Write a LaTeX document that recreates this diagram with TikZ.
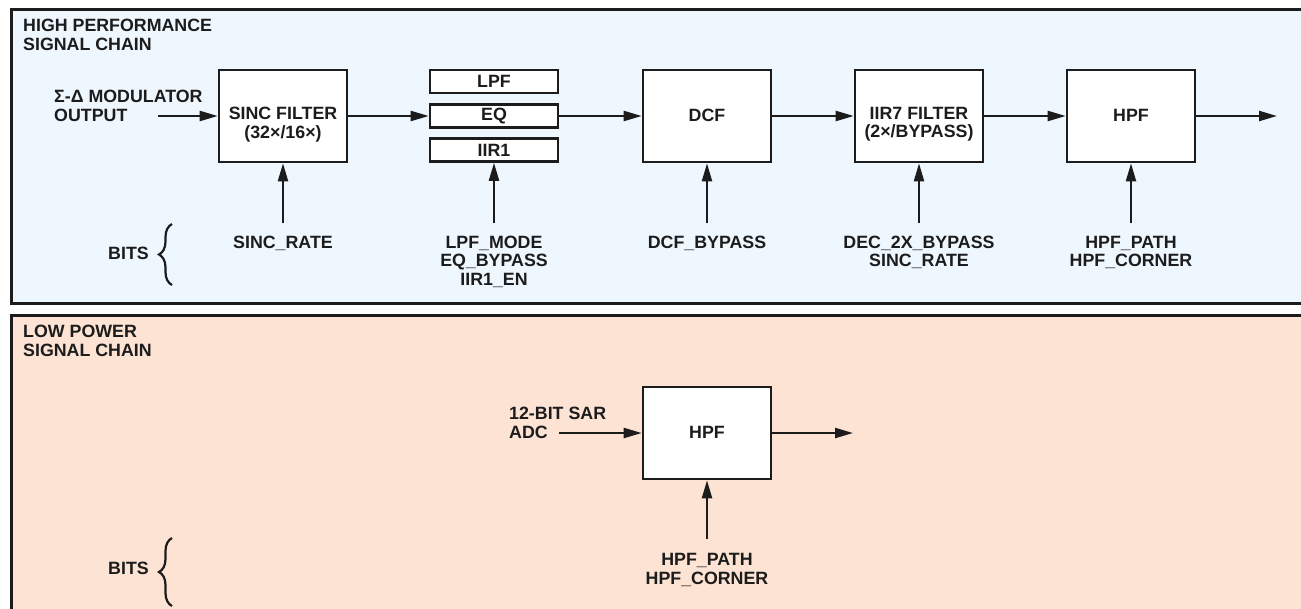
\documentclass[tikz,border=0pt]{standalone}
\usepackage{fontspec}
\setmainfont{Liberation Sans}
\usetikzlibrary{arrows.meta,decorations.pathreplacing,calc}
\definecolor{hpbg}{RGB}{239,247,254}
\definecolor{lpbg}{RGB}{252,227,211}
\definecolor{ink}{RGB}{28,28,28}
\begin{document}
\begin{tikzpicture}[x=1pt,y=-1pt,
 txt/.style={font=\fontsize{17.8}{18.4}\selectfont\bfseries, inner sep=0pt, align=center, text=ink},
 txtl/.style={txt, align=left},
 blk/.style={draw=ink, line width=2.6pt, fill=white, inner sep=0pt, minimum width=128pt, minimum height=92pt},
 sblk/.style={blk, minimum height=23pt},
 sig/.style={draw=ink, line width=2.2pt, -{Triangle[length=18pt,width=10pt]}},
 panel/.style={draw=ink, line width=3pt},
 brc/.style={draw=ink, line width=2.2pt, decorate, decoration={brace,amplitude=13pt}}]
\useasboundingbox (0,0) rectangle (1301,608);
\clip (0,0) rectangle (1301,608);
\fill[white] (0,0) rectangle (1301,608);
\draw[panel, fill=hpbg] (11,9.5) rectangle (1320,303.5);
\draw[panel, fill=lpbg] (11,315.5) rectangle (1320,630);

% ---------- high performance chain ----------
\node[txtl, anchor=west] (hptitle) at (23,35) {HIGH PERFORMANCE\\SIGNAL CHAIN};
\node[txtl, anchor=west] (modin) at (54,106) {Σ-Δ MODULATOR\\OUTPUT};
\coordinate (in1) at (158,116);

\node[blk] (sinc) at (283,116) {};
\node[txt] (sinct) at (283,124.5) {SINC FILTER\\(32×/16×)};
\node[sblk] (lpf) at (494,81.5) {};
\node[txt] (lpft) at (494,81.5) {LPF};
\node[sblk] (eq) at (494,116) {};
\node[txt] (eqt) at (494,116) {EQ};
\node[sblk] (iir1) at (494,150) {};
\node[txt] (iir1t) at (494,150) {IIR1};
\node[blk] (dcf) at (707,116) {};
\node[txt] (dcft) at (707,115.5) {DCF};
\node[blk] (iir7) at (919,116) {};
\node[txt] (iir7t) at (919,124.5) {IIR7 FILTER\\(2×/BYPASS)};
\node[blk] (hpf) at (1131,116) {};
\node[txt] (hpft) at (1131,115.5) {HPF};
\coordinate (out1) at (1277,116);

\draw[sig] (in1) -- (sinc.west);
\draw[sig] (sinc.east) -- (eq.west);
\draw[sig] (eq.east) -- (dcf.west);
\draw[sig] (dcf.east) -- (iir7.west);
\draw[sig] (iir7.east) -- (hpf.west);
\draw[sig] (hpf.east) -- (out1);

\coordinate (c1) at (283,223);
\coordinate (c2) at (494,223);
\coordinate (c3) at (707,223);
\coordinate (c4) at (919,223);
\coordinate (c5) at (1131,223);
\draw[sig] (c1) -- (sinc.south);
\draw[sig] (c2) -- (iir1.south);
\draw[sig] (c3) -- (dcf.south);
\draw[sig] (c4) -- (iir7.south);
\draw[sig] (c5) -- (hpf.south);

\node[txt] (b1) at (283,243) {SINC\_RATE};
\node[txt] (b2) at (494,261.5) {LPF\_MODE\\EQ\_BYPASS\\IIR1\_EN};
\node[txt] (b3) at (707,243) {DCF\_BYPASS};
\node[txt] (b4) at (919,252.5) {DEC\_2X\_BYPASS\\SINC\_RATE};
\node[txt] (b5) at (1131,252.5) {HPF\_PATH\\HPF\_CORNER};

\node[txt] (bits1) at (128.5,253.5) {BITS};
\draw[brc] (172,285) -- (172,224);

% ---------- low power chain ----------
\node[txtl, anchor=west] (lptitle) at (23,341) {LOW POWER\\SIGNAL CHAIN};
\node[txtl, anchor=west] (sarin) at (509,423) {12-BIT SAR\\ADC};
\coordinate (in2) at (559,433);
\node[blk] (hpf2) at (707,433) {};
\node[txt] (hpf2t) at (707,432) {HPF};
\coordinate (out2) at (853,433);
\draw[sig] (in2) -- (hpf2.west);
\draw[sig] (hpf2.east) -- (out2);
\coordinate (c6) at (707,539);
\draw[sig] (c6) -- (hpf2.south);
\node[txt] (b6) at (707,570) {HPF\_PATH\\HPF\_CORNER};

\node[txt] (bits2) at (128.5,568) {BITS};
\draw[brc] (172,606) -- (172,538);
\end{tikzpicture}
\end{document}
